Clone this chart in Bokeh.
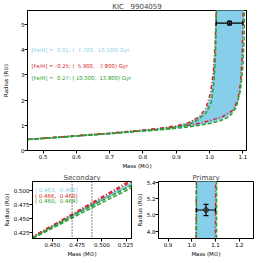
from bokeh.plotting import figure
from bokeh.layouts import column, row
from bokeh.models import ColumnDataSource, Whisker, TeeHead, Span, Label, FixedTicker, Range1d
from bokeh.embed import file_html
from bokeh.resources import INLINE

NB = "\u00a0"  # keeps the wide gaps of the original labels visible in SVG

# ---------------- data ----------------
title_text = "KIC" + NB + NB + " 9904059"
feh_labels = ["[Fe/H] =" + NB + " 0.01; (" + NB + " 7.700," + NB + " 10.100) Gyr",
              "[Fe/H] = -0.25; (" + NB + " 5.900," + NB + NB + " 7.800) Gyr",
              "[Fe/H] =" + NB + " 0.27; ( 10.300," + NB + " 13.800) Gyr"]
sec_labels = ["( 0.463," + NB + " 0.466)", "( 0.466," + NB + " 0.468)", "( 0.460," + NB + " 0.464)"]

primary_mass = 1.06
primary_mass_err = 0.04
primary_radius = 5.06
primary_radius_err = 0.07
secondary_mass_range = [0.47, 0.49]

# isochrones: mass (Msun) and radius (Rsun)
blue_old_m = [0.42, 0.48, 0.53, 0.6, 0.7, 0.8, 0.85, 0.9, 0.94, 0.968, 0.99, 1.004, 1.012, 1.017, 1.021]
blue_old_r = [0.407, 0.466, 0.512, 0.58, 0.68, 0.80, 0.86, 0.95, 1.09, 1.3, 1.6, 2.1, 2.9, 4.0, 5.7]
blue_young_m = [0.42, 0.48, 0.53, 0.6, 0.7, 0.8, 0.85, 0.9, 0.95, 1.0, 1.035, 1.065, 1.082, 1.092, 1.098, 1.102]
blue_young_r = [0.407, 0.463, 0.510, 0.58, 0.68, 0.785, 0.84, 0.91, 0.99, 1.12, 1.26, 1.48, 1.85, 2.5, 3.6, 5.7]

red_old_m = [0.42, 0.48, 0.53, 0.6, 0.7, 0.8, 0.85, 0.9, 0.94, 0.97, 0.99, 1.003, 1.012, 1.017, 1.02]
red_old_r = [0.408, 0.468, 0.518, 0.585, 0.69, 0.81, 0.88, 0.98, 1.12, 1.35, 1.7, 2.3, 3.2, 4.3, 5.7]
red_young_m = [0.42, 0.48, 0.53, 0.6, 0.7, 0.8, 0.85, 0.9, 0.95, 1.0, 1.04, 1.07, 1.085, 1.093, 1.098, 1.101]
red_young_r = [0.408, 0.466, 0.515, 0.585, 0.69, 0.80, 0.86, 0.94, 1.03, 1.18, 1.35, 1.6, 2.0, 2.7, 3.8, 5.7]

green_old_m = [0.42, 0.48, 0.53, 0.6, 0.7, 0.8, 0.85, 0.9, 0.94, 0.965, 0.99, 1.005, 1.013, 1.018, 1.021]
green_old_r = [0.406, 0.464, 0.508, 0.575, 0.67, 0.78, 0.84, 0.92, 1.05, 1.22, 1.5, 1.9, 2.7, 3.8, 5.7]
green_young_m = [0.42, 0.48, 0.53, 0.6, 0.7, 0.8, 0.85, 0.9, 0.95, 1.0, 1.03, 1.06, 1.08, 1.093, 1.1, 1.104, 1.105]
green_young_r = [0.406, 0.460, 0.504, 0.575, 0.67, 0.77, 0.82, 0.88, 0.96, 1.07, 1.17, 1.35, 1.7, 2.4, 3.3, 4.5, 5.7]

top_xticks = [0.5, 0.6, 0.7, 0.8, 0.9, 1.0, 1.1]
top_xlabels = ["0.5", "0.6", "0.7", "0.8", "0.9", "1.0", "1.1"]
top_yticks = [0, 1, 2, 3, 4, 5]
top_ylabels = ["0", "1", "2", "3", "4", "5"]
sec_xticks = [0.45, 0.475, 0.5, 0.525]
sec_xlabels = ["0.450", "0.475", "0.500", "0.525"]
sec_yticks = [0.425, 0.45, 0.475, 0.5]
sec_ylabels = ["0.425", "0.450", "0.475", "0.500"]
pri_xticks = [0.9, 1.0, 1.1, 1.2]
pri_xlabels = ["0.9", "1.0", "1.1", "1.2"]
pri_yticks = [4.8, 5.0, 5.2, 5.4]
pri_ylabels = ["4.8", "5.0", "5.2", "5.4"]

SKY = "#87ceeb"
RED = "#d62728"
GREEN = "#2ca02c"
FONT = "DejaVu Sans"


def style(p, xt, xl, yt, yl, title, ystand=1):
    p.xaxis.ticker = FixedTicker(ticks=xt)
    p.xaxis.major_label_overrides = dict(zip(xt, xl))
    p.yaxis.ticker = FixedTicker(ticks=yt)
    p.yaxis.major_label_overrides = dict(zip(yt, yl))
    p.xaxis.axis_label = "Mass (M⊙)"
    p.yaxis.axis_label = "Radius (R⊙)"
    for ax in p.axis:
        ax.major_tick_out = 3
        ax.major_tick_in = 0
        ax.minor_tick_out = 0
        ax.minor_tick_in = 0
        ax.axis_line_color = "black"
        ax.major_tick_line_color = "black"
        ax.major_label_text_font = FONT
        ax.major_label_text_font_size = "5.5px"
        ax.major_label_text_color = "black"
        ax.axis_label_text_font = FONT
        ax.axis_label_text_font_size = "5.5px"
        ax.axis_label_text_font_style = "normal"
        ax.axis_label_text_color = "black"
        ax.major_label_standoff = 0
        ax.axis_label_standoff = 1
    p.yaxis.axis_label_standoff = ystand
    p.grid.visible = False
    p.outline_line_color = "black"
    p.outline_line_alpha = 1
    p.title.text = title
    p.title.align = "center"
    p.title.text_font = FONT
    p.title.text_font_size = "7px"
    p.title.text_font_style = "normal"
    p.title.standoff = 0


def draw_curves(p):
    xs = blue_young_m + blue_old_m[::-1]
    ys = blue_young_r + blue_old_r[::-1]
    p.patch(xs, ys, fill_color=SKY, line_color=None)
    for m, r in [(blue_old_m, blue_old_r), (blue_young_m, blue_young_r)]:
        p.line(m, r, line_color=SKY, line_width=1.5)
    for m, r in [(red_old_m, red_old_r), (red_young_m, red_young_r)]:
        p.line(m, r, line_color=RED, line_width=1.5, line_dash="4 2 1 2")
    for m, r in [(green_old_m, green_old_r), (green_young_m, green_young_r)]:
        p.line(m, r, line_color=GREEN, line_width=1.5, line_dash="4 2")


def draw_err(p, head):
    src = ColumnDataSource(dict(
        m=[primary_mass], r=[primary_radius],
        mlo=[primary_mass - primary_mass_err], mhi=[primary_mass + primary_mass_err],
        rlo=[primary_radius - primary_radius_err], rhi=[primary_radius + primary_radius_err]))
    for base, lo, hi, dim in [("r", "mlo", "mhi", "width"), ("m", "rlo", "rhi", "height")]:
        p.add_layout(Whisker(source=src, base=base, lower=lo, upper=hi, dimension=dim,
                             level="overlay", line_color="black", line_width=1.2,
                             lower_head=TeeHead(size=head, line_color="black", line_width=1.2),
                             upper_head=TeeHead(size=head, line_color="black", line_width=1.2)))
    p.scatter("m", "r", source=src, size=4.5, fill_color="white", line_color="black",
              line_width=1, level="overlay")


common = dict(output_backend="svg", toolbar_location=None, tools="",
              background_fill_color="white", border_fill_color="white")

# ---------------- top panel ----------------
p = figure(frame_width=219, frame_height=140, x_range=Range1d(0.453, 1.111), y_range=Range1d(0, 5.56),
           min_border_left=26, min_border_right=2, min_border_top=10, min_border_bottom=18, **common)
style(p, top_xticks, top_xlabels, top_yticks, top_ylabels, title_text, ystand=9)
draw_curves(p)
draw_err(p, 5)
for txt, col, yy in zip(feh_labels, [SKY, RED, GREEN], [4.0, 3.36, 2.88]):
    p.add_layout(Label(x=0.465, y=yy, text=txt, text_color=col, text_font=FONT,
                       text_font_size="5.3px", text_baseline="middle"))

# ---------------- secondary ----------------
ps = figure(frame_width=99, frame_height=57, x_range=Range1d(0.43, 0.53), y_range=Range1d(0.415, 0.515),
            min_border_left=26, min_border_right=2, min_border_top=10, min_border_bottom=18, **common)
style(ps, sec_xticks, sec_xlabels, sec_yticks, sec_ylabels, "Secondary")
draw_curves(ps)
for loc in secondary_mass_range:
    ps.add_layout(Span(location=loc, dimension="height", line_color="black",
                       line_dash="1 2", line_width=1))
for txt, col, yy in zip(sec_labels, [SKY, RED, GREEN], [0.5004, 0.4902, 0.4802]):
    ps.add_layout(Label(x=0.4325, y=yy, text=txt, text_color=col, text_font=FONT,
                        text_font_size="5.5px", text_baseline="middle"))

# ---------------- primary ----------------
pp = figure(frame_width=95, frame_height=57, x_range=Range1d(0.86, 1.26), y_range=Range1d(4.71, 5.41),
            min_border_left=22, min_border_right=2, min_border_top=10, min_border_bottom=18, **common)
style(pp, pri_xticks, pri_xlabels, pri_yticks, pri_ylabels, "Primary")
draw_curves(pp)
draw_err(pp, 5)

layout = column(p, row(ps, pp))
open("out.html", "w").write(file_html(layout, INLINE))
